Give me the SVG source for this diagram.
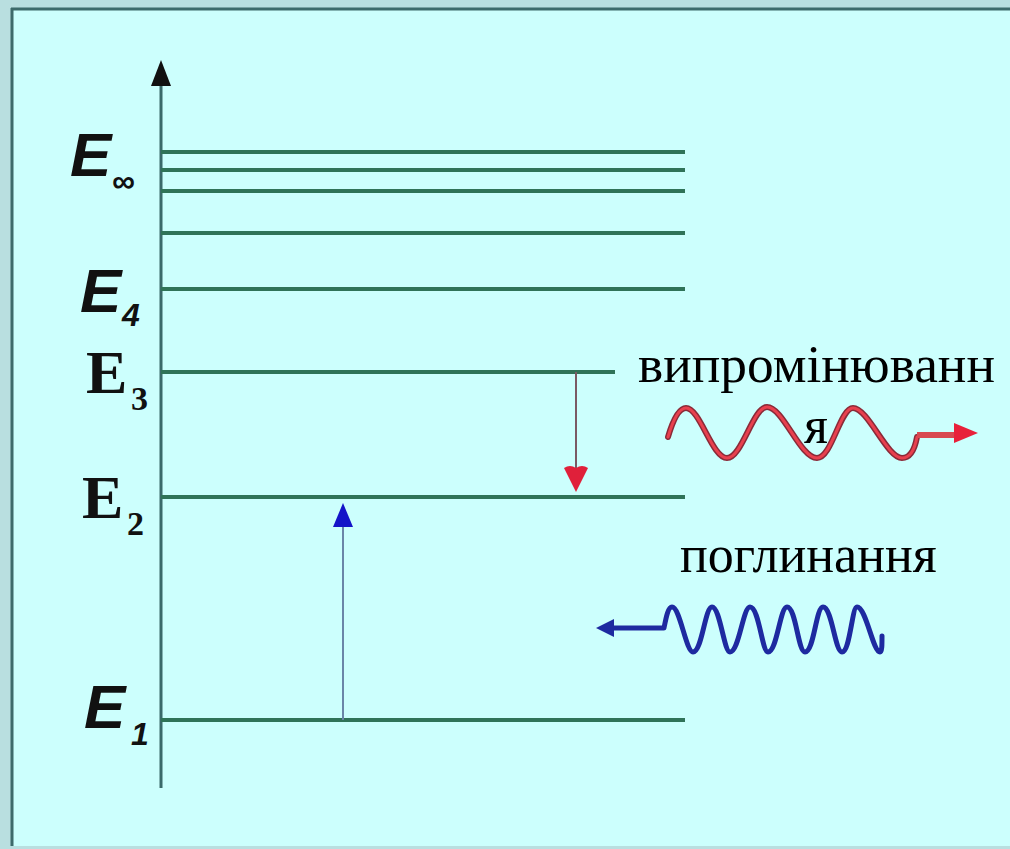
<svg xmlns="http://www.w3.org/2000/svg" width="1010" height="849" viewBox="0 0 1010 849">
<defs>
<style>
.level{stroke:#2f7358;stroke-width:4;fill:none}
.axis{stroke:#3a6a6a;stroke-width:3;fill:none}
.esans{font-family:"Liberation Sans",Arial,sans-serif;font-style:italic;font-weight:bold;font-size:62px;fill:#111}
.eserif{font-family:"Liberation Serif","Times New Roman",serif;font-weight:bold;font-size:62px;fill:#111}
.subsans{font-family:"Liberation Sans",Arial,sans-serif;font-style:italic;font-weight:bold;font-size:32px;fill:#111}
.subserif{font-family:"Liberation Serif","Times New Roman",serif;font-weight:bold;font-size:34px;fill:#111}
.label{font-family:"Liberation Serif","Times New Roman",serif;font-size:52px;fill:#000}
</style>
</defs>
<rect x="0" y="0" width="1010" height="849" fill="#b9dfe0"/>
<rect x="13" y="10" width="997" height="836" fill="#ccfffd"/>
<line x1="12" y1="8" x2="12" y2="846" stroke="#3d6b6b" stroke-width="3"/>
<line x1="11" y1="9" x2="1010" y2="9" stroke="#3d6b6b" stroke-width="3"/>

<g id="axis">
<line class="axis" x1="161" y1="82" x2="161" y2="788"/>
<polygon points="161,60 151,86 171,86" fill="#111"/>
</g>

<g id="levels">
<line class="level" x1="161" y1="152" x2="685" y2="152"/>
<line class="level" x1="161" y1="170" x2="685" y2="170"/>
<line class="level" x1="161" y1="191" x2="685" y2="191"/>
<line class="level" x1="161" y1="233" x2="685" y2="233"/>
<line class="level" x1="161" y1="289" x2="685" y2="289"/>
<line class="level" x1="161" y1="372" x2="615" y2="372"/>
<line class="level" x1="161" y1="497" x2="685" y2="497"/>
<line class="level" x1="161" y1="720" x2="685" y2="720"/>
</g>

<g id="label-Einf">
<text class="esans" x="70" y="176">E</text>
<text class="subsans" x="112" y="192">∞</text>
</g>
<g id="label-E4">
<text class="esans" x="80" y="312">E</text>
<text class="subsans" x="122" y="326">4</text>
</g>
<g id="label-E3">
<text class="eserif" x="86" y="393">E</text>
<text class="subserif" x="131" y="410">3</text>
</g>
<g id="label-E2">
<text class="eserif" x="82" y="518">E</text>
<text class="subserif" x="127" y="535">2</text>
</g>
<g id="label-E1">
<text class="esans" x="84" y="728">E</text>
<text class="subsans" x="131" y="745">1</text>
</g>

<g id="connectors">
<line x1="343" y1="720" x2="343" y2="522" stroke="#6a86a8" stroke-width="2"/>
<polygon points="343,503 333,527 353,527" fill="#1414c8"/>
<line x1="576" y1="372" x2="576" y2="472" stroke="#7a5a64" stroke-width="2"/>
<path d="M576,492 L564,468 Q570,464 576,468 Q582,464 588,468 Z" fill="#e0203a"/>
</g>

<g id="emission">
<path d="M668,437 C673,420 679,408 686,408 C700,408 712,458 727,458 C742,458 753,407 767,407 C783,407 800,458 817,458 C832,458 840,408 853,408 C868,408 887,458 902,458 C911,458 915,448 917,437" fill="none" stroke="#8a2a38" stroke-width="6" stroke-linecap="round"/>
<path d="M668,437 C673,420 679,408 686,408 C700,408 712,458 727,458 C742,458 753,407 767,407 C783,407 800,458 817,458 C832,458 840,408 853,408 C868,408 887,458 902,458 C911,458 915,448 917,437" fill="none" stroke="#e8404e" stroke-width="3" stroke-linecap="round"/>
<line x1="917" y1="435" x2="956" y2="435" stroke="#d84850" stroke-width="6"/>
<polygon points="978,433 954,423 954,443" fill="#e8203a"/>
<text class="label" x="638" y="382" textLength="357" lengthAdjust="spacingAndGlyphs">випромінюванн</text>
<text class="label" x="804" y="443">я</text>
</g>

<g id="absorption">
<path d="M610,628 L664,628 C666,618 668,607 672,607 C680,607 686,652 693,652 C702,652 705,607 712,607 C720,607 724,652 730,652 C739,652 743,607 750,607 C759,607 762,652 768,652 C777,652 780,607 787,607 C796,607 798,652 805,652 C814,652 816,607 823,607 C832,607 835,652 842,652 C850,652 852,607 857,607 C866,607 873,652 880,652 C882,652 882,645 882,636" fill="none" stroke="#1e2aa0" stroke-width="5" stroke-linejoin="round" stroke-linecap="round"/>
<polygon points="596,628 614,619 614,637" fill="#1e2aa0"/>
<text class="label" x="680" y="572">поглинання</text>
</g>
</svg>
